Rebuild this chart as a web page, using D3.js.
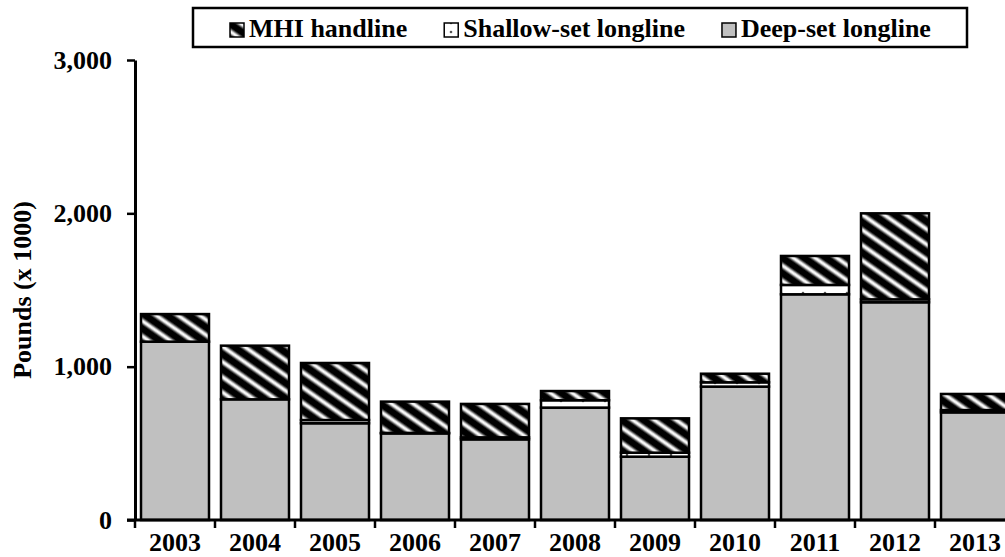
<!DOCTYPE html>
<html>
<head>
<meta charset="utf-8">
<script src="https://cdn.jsdelivr.net/npm/d3@7"></script>
<style>
  html, body { margin: 0; padding: 0; background: #fff; }
  svg { display: block; }
  text { font-family: "Liberation Serif", "Times New Roman", serif; font-weight: bold; fill: #000; }
</style>
</head>
<body>
<script>
// Landings by year and gear (thousands of pounds)
const years = ["2003", "2004", "2005", "2006", "2007", "2008", "2009", "2010", "2011", "2012", "2013"];
const deepSet = [1163, 787, 631, 565, 526, 733, 413, 870, 1472, 1420, 702];
const shallowSet = [0, 0, 21, 3, 13, 48, 26, 28, 61, 19, 15];
const mhiHandline = [180, 350, 372, 204, 218, 60, 224, 56, 189, 561, 105];
const yTicks = [0, 1000, 2000, 3000];
const seriesNames = ["Deep-set longline", "Shallow-set longline", "MHI handline"];
const legendOrder = ["MHI handline", "Shallow-set longline", "Deep-set longline"];
const yLabel = "Pounds (x 1000)";

const W = 1005, H = 557;
const margin = { left: 135, top: 60, bottom: 37 };
const plotRight = margin.left + 880;

const svg = d3.select("body").append("svg").attr("width", W).attr("height", H);
const defs = svg.append("defs");

// Soft diagonal stripes for the handline segments
const grad = defs.append("linearGradient").attr("id", "stripeGrad")
  .attr("x1", 0).attr("x2", 1).attr("y1", 0).attr("y2", 0);
[[0, "#000"], [0.22, "#000"], [0.45, "#fff"], [0.55, "#fff"], [0.78, "#000"], [1, "#000"]]
  .forEach(([o, c]) => grad.append("stop").attr("offset", o).attr("stop-color", c));
const stripes = defs.append("pattern").attr("id", "stripes")
  .attr("patternUnits", "userSpaceOnUse").attr("width", 12.5).attr("height", 12.5)
  .attr("patternTransform", "rotate(-55)");
stripes.append("rect").attr("width", 12.5).attr("height", 12.5).attr("fill", "url(#stripeGrad)");

// White with a row of small dots for the shallow-set segments
const dots = defs.append("pattern").attr("id", "dots")
  .attr("patternUnits", "userSpaceOnUse").attr("width", 22).attr("height", 9);
dots.append("rect").attr("width", 22).attr("height", 9).attr("fill", "#fff");
dots.append("circle").attr("cx", 11).attr("cy", 5).attr("r", 1.3).attr("fill", "#555");

const fills = {
  "Deep-set longline": "#c0c0c0",
  "Shallow-set longline": "url(#dots)",
  "MHI handline": "url(#stripes)"
};

const x = d3.scaleBand().domain(years).range([margin.left, plotRight])
  .paddingInner(0.15).paddingOuter(0.075);
const y = d3.scaleLinear().domain([0, 3000]).range([H - margin.bottom, margin.top]);

const rows = years.map((yr, i) => ({
  year: yr,
  "Deep-set longline": deepSet[i],
  "Shallow-set longline": shallowSet[i],
  "MHI handline": mhiHandline[i]
}));
const stacked = d3.stack().keys(seriesNames)(rows);

svg.append("g").selectAll("g").data(stacked).join("g")
  .attr("fill", d => fills[d.key])
  .selectAll("rect").data(d => d).join("rect")
  .attr("x", d => x(d.data.year))
  .attr("width", x.bandwidth())
  .attr("y", d => y(d[1]))
  .attr("height", d => y(d[0]) - y(d[1]))
  .attr("stroke", "#000").attr("stroke-width", 2.5);

// Y axis
const yAxis = svg.append("g").attr("transform", `translate(${margin.left},0)`)
  .call(d3.axisLeft(y).tickValues(yTicks).tickFormat(d3.format(",")).tickSize(8).tickSizeOuter(0).tickPadding(15));
yAxis.select(".domain").attr("stroke-width", 3);
yAxis.selectAll(".tick line").attr("stroke-width", 2.5);
yAxis.selectAll(".tick text").style("font-size", "26px")
  .style("font-family", '"Liberation Serif", serif').style("font-weight", "bold");

// X axis: baseline with ticks at category boundaries
const base = y(0);
const xg = svg.append("g");
xg.append("line").attr("x1", margin.left - 8).attr("x2", W + 20)
  .attr("y1", base).attr("y2", base).attr("stroke", "#000").attr("stroke-width", 3);
const boundaries = years.map(yr => x(yr) - x.step() * x.paddingOuter());
xg.selectAll("line.tick").data(boundaries).join("line").attr("class", "tick")
  .attr("x1", d => d).attr("x2", d => d).attr("y1", base).attr("y2", base + 8)
  .attr("stroke", "#000").attr("stroke-width", 2.5);
xg.selectAll("text").data(years).join("text")
  .attr("x", d => x(d) + x.bandwidth() / 2)
  .attr("y", 551).attr("text-anchor", "middle").style("font-size", "26px")
  .text(d => d);

// Y axis title
svg.append("text").attr("transform", `translate(31,${(margin.top + base) / 2}) rotate(-90)`)
  .attr("text-anchor", "middle").style("font-size", "26px").text(yLabel);

// Legend
const lg = svg.append("g");
lg.append("rect").attr("x", 193).attr("y", 8).attr("width", 774).attr("height", 39)
  .attr("fill", "#fff").attr("stroke", "#000").attr("stroke-width", 2.5);
let lx = 230;
legendOrder.forEach(name => {
  lg.append("rect").attr("x", lx).attr("y", 23).attr("width", 14).attr("height", 14)
    .attr("fill", fills[name]).attr("stroke", "#000").attr("stroke-width", 1.5);
  const t = lg.append("text").attr("x", lx + 19).attr("y", 37).style("font-size", "26px").text(name);
  lx += 19 + t.node().getComputedTextLength() + 37;
});
</script>
</body>
</html>
